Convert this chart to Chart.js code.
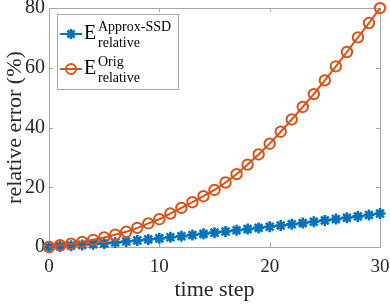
<!DOCTYPE html>
<html>
<head>
<meta charset="utf-8">
<script src="https://cdn.jsdelivr.net/npm/chart.js@4/dist/chart.umd.min.js"></script>
<style>
  html, body { margin: 0; padding: 0; background: #fff; }
  #wrap { width: 390px; height: 304px; }
</style>
</head>
<body>
<div id="wrap"><canvas id="chart" width="390" height="304"></canvas></div>
<script>
// time steps and relative error (%)
const timeSteps = [0, 1, 2, 3, 4, 5, 6, 7, 8, 9, 10, 11, 12, 13, 14, 15,
    16, 17, 18, 19, 20, 21, 22, 23, 24, 25, 26, 27, 28, 29, 30];
const approxSsd = [0, 0.2, 0.45, 0.7, 0.95, 1.2, 1.5, 1.85, 2.2, 2.55, 2.9,
    3.25, 3.6, 4.0, 4.4, 4.8, 5.2, 5.6, 6.0, 6.4, 6.8, 7.2, 7.6, 8.0, 8.45,
    8.9, 9.35, 9.8, 10.25, 10.7, 11.2];
const orig = [0, 0.6, 1.1, 1.7, 2.4, 3.2, 4.1, 5.1, 6.4, 7.9, 9.3, 11.2,
    13.1, 15.0, 17.0, 19.1, 21.6, 24.4, 27.6, 31.0, 34.6, 38.6, 42.7, 46.9,
    51.2, 55.8, 60.5, 65.3, 70.2, 75.0, 80.0];
const xTicks = [0, 10, 20, 30];
const yTicks = [0, 20, 40, 60, 80];

const BLUE = '#0072BD';
const ORANGE = '#D95319';
const AXIS = '#a6a6a6';
const TEXT = '#262626';
const SERIF = '"Liberation Serif", "Times New Roman", serif';

function drawStar(ctx, x, y, r) {
    ctx.beginPath();
    for (let a = 0; a < 4; a++) {
        const ang = a * Math.PI / 4;
        ctx.moveTo(x - r * Math.cos(ang), y - r * Math.sin(ang));
        ctx.lineTo(x + r * Math.cos(ang), y + r * Math.sin(ang));
    }
    ctx.stroke();
}

// MATLAB-like box with inward ticks + legend with super/subscripts
const boxPlugin = {
    id: 'box',
    beforeDatasetsDraw(chart) {
        const { ctx, chartArea: a, scales } = chart;
        ctx.save();
        ctx.strokeStyle = AXIS;
        ctx.lineWidth = 1;
        ctx.strokeRect(Math.round(a.left) + 0.5, Math.round(a.top) + 0.5,
            Math.round(a.right - a.left), Math.round(a.bottom - a.top));
        ctx.beginPath();
        xTicks.forEach(v => {
            const px = Math.round(scales.x.getPixelForValue(v)) + 0.5;
            ctx.moveTo(px, a.bottom); ctx.lineTo(px, a.bottom - 4);
            ctx.moveTo(px, a.top); ctx.lineTo(px, a.top + 4);
        });
        yTicks.forEach(v => {
            const py = Math.round(scales.y.getPixelForValue(v)) + 0.5;
            ctx.moveTo(a.left, py); ctx.lineTo(a.left + 4, py);
            ctx.moveTo(a.right, py); ctx.lineTo(a.right - 4, py);
        });
        ctx.stroke();
        ctx.restore();
    },
    afterDraw(chart) {
        const ctx = chart.ctx;
        ctx.save();
        ctx.fillStyle = '#fff';
        ctx.fillRect(57.5, 14.5, 121, 75);
        ctx.strokeStyle = AXIS;
        ctx.lineWidth = 1;
        ctx.strokeRect(57.5, 14.5, 121, 75);

        const entries = [
            { color: BLUE, y: 34, sup: 'Approx-SSD', star: true },
            { color: ORANGE, y: 69, sup: 'Orig', star: false }
        ];
        entries.forEach(e => {
            ctx.strokeStyle = e.color;
            ctx.lineWidth = 2;
            ctx.beginPath();
            ctx.moveTo(60, e.y); ctx.lineTo(82, e.y);
            ctx.stroke();
            if (e.star) {
                ctx.lineWidth = 2.5;
                drawStar(ctx, 71, e.y, 5);
            } else {
                ctx.beginPath();
                ctx.arc(71, e.y, 5, 0, Math.PI * 2);
                ctx.stroke();
            }
            ctx.fillStyle = '#000';
            ctx.textAlign = 'left';
            ctx.textBaseline = 'alphabetic';
            ctx.font = '20px ' + SERIF;
            ctx.fillText('E', 84, e.y + 5);
            ctx.font = '14px ' + SERIF;
            ctx.fillText(e.sup, 98, e.y - 3);
            ctx.fillText('relative', 98, e.y + 13);
        });
        ctx.restore();
    }
};

const ctx = document.getElementById('chart').getContext('2d');
new Chart(ctx, {
    type: 'line',
    data: {
        datasets: [
            {
                label: 'Orig',
                data: timeSteps.map((t, i) => ({ x: t, y: orig[i] })),
                borderColor: ORANGE,
                backgroundColor: 'rgba(0,0,0,0)',
                borderWidth: 2,
                pointStyle: 'circle',
                pointRadius: 5.2,
                pointBorderWidth: 2,
                pointBorderColor: ORANGE,
                pointBackgroundColor: 'rgba(0,0,0,0)',
                tension: 0,
                clip: false,
                order: 0
            },
            {
                label: 'Approx-SSD',
                data: timeSteps.map((t, i) => ({ x: t, y: approxSsd[i] })),
                borderColor: BLUE,
                backgroundColor: BLUE,
                borderWidth: 2,
                pointStyle: 'star',
                pointRadius: 5.5,
                pointBorderWidth: 2.6,
                pointBorderColor: BLUE,
                tension: 0,
                clip: false,
                order: 1
            }
        ]
    },
    options: {
        responsive: false,
        animation: false,
        events: [],
        layout: { padding: { top: 7, right: 10, left: 0, bottom: 0 } },
        plugins: {
            legend: { display: false },
            tooltip: { enabled: false }
        },
        scales: {
            x: {
                type: 'linear',
                min: 0, max: 30,
                afterBuildTicks: s => { s.ticks = xTicks.map(v => ({ value: v })); },
                afterFit: s => { s.height = 57; s.paddingLeft = 0; s.paddingRight = 0; },
                grid: { display: false, drawTicks: false },
                border: { display: false },
                ticks: { color: TEXT, padding: 9, maxRotation: 0,
                    font: { family: SERIF, size: 19 } },
                title: { display: true, text: 'time step', color: TEXT,
                    padding: { top: 0, bottom: 1 },
                    font: { family: SERIF, size: 22 } }
            },
            y: {
                min: 0, max: 80,
                afterBuildTicks: s => { s.ticks = yTicks.map(v => ({ value: v })); },
                afterFit: s => { s.width = 49; s.paddingTop = 0; s.paddingBottom = 0; },
                grid: { display: false, drawTicks: false },
                border: { display: false },
                ticks: { color: TEXT, padding: 4,
                    font: { family: SERIF, size: 20 } },
                title: { display: true, text: 'relative error (%)', color: TEXT,
                    padding: { top: 2, bottom: 0 },
                    font: { family: SERIF, size: 22 } }
            }
        }
    },
    plugins: [boxPlugin]
});
</script>
</body>
</html>
